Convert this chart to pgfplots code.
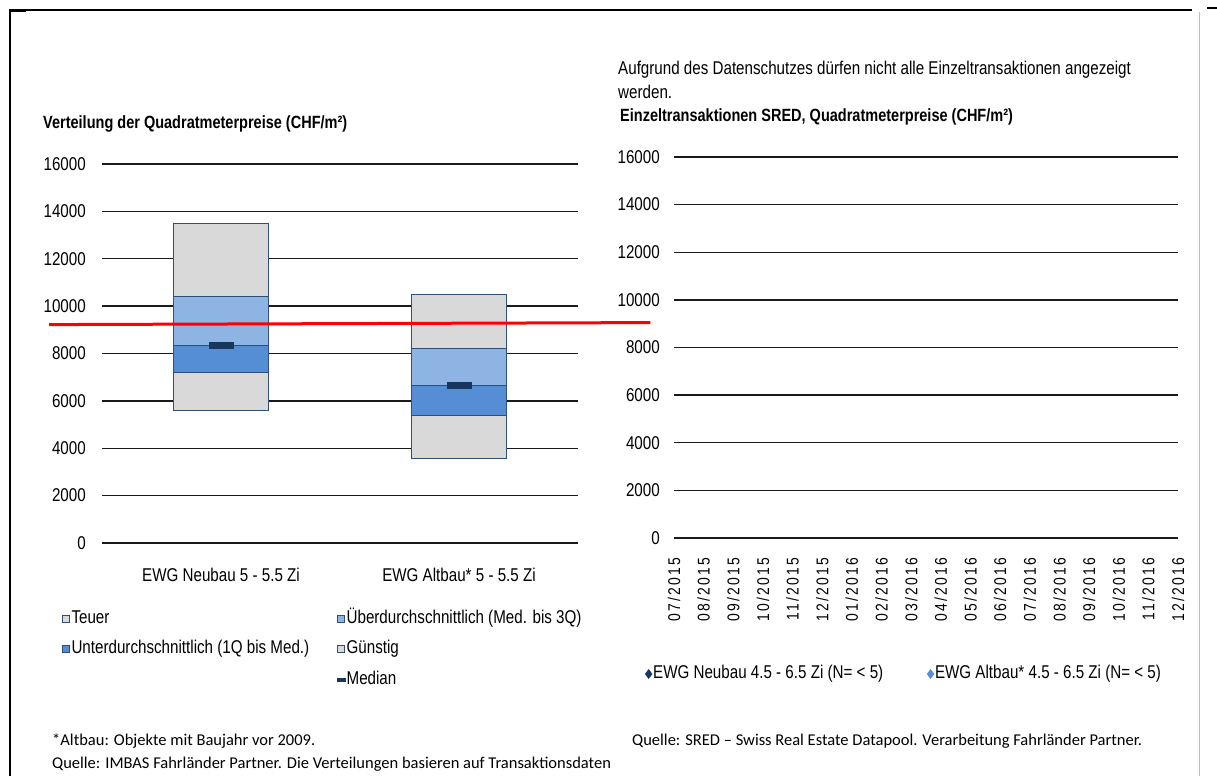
\documentclass[border=0pt]{standalone}
\usepackage{pgfplots}
\usepackage{pgfplotstable}
\pgfplotsset{compat=1.18}
\usepackage{fontspec}
\setmainfont{Liberation Sans}[FakeStretch=0.82]
\newfontfamily\wfont{Liberation Sans}[FakeStretch=0.82, LetterSpace=13]
\newfontfamily\cfont{Carlito}
\definecolor{lgray}{HTML}{D9D9D9}
\definecolor{lblue}{HTML}{8EB4E3}
\definecolor{mblue}{HTML}{558ED5}
\definecolor{navy}{HTML}{17375E}
\definecolor{bord}{HTML}{2F4F7A}
\definecolor{gridc}{HTML}{1A1A1A}
\pgfdeclareplotmark{medbar}{\pgfpathrectangle{\pgfpoint{-12.5pt}{-3.5pt}}{\pgfpoint{25pt}{7pt}}\pgfusepath{fill}}
\pgfplotstableread{
x base guenstig unter ueber teuer median
0 5600 1600 1150 2050 3100 8350
1 3550 1850 1250 1550 2300 6650
}\boxdata
\newcommand{\fs}{\fontsize{18.5}{21}\selectfont}
\newcommand{\fb}{\fontsize{17.7}{21}\selectfont\bfseries}
\newcommand{\fc}{\fontsize{16.5}{20}\selectfont\cfont}
\begin{document}
\begin{tikzpicture}
\path[use as bounding box] (0pt,0pt) rectangle (1217pt,776pt);
% frame
\draw[black, line width=1.5pt] (10pt,0pt) -- (10pt,766pt) -- (1192pt,766pt);
\draw[black, line width=2.5pt] (10pt,765.5pt) -- (26pt,765.5pt);
\draw[black, line width=1.5pt] (1207pt,768pt) -- (1217pt,768pt);
\draw[black!25, line width=1pt] (1199pt,0pt) -- (1199pt,764pt);
% left chart
\begin{axis}[
  at={(102pt,233pt)}, anchor=south west, scale only axis,
  width=476pt, height=379pt,
  xmin=-0.5, xmax=1.5, ymin=0, ymax=16000,
  ytick={0,2000,...,16000}, xtick={0,1},
  xticklabels={EWG Neubau 5 - 5.5 Zi, EWG Altbau* 5 - 5.5 Zi},
  axis line style={draw=none}, major tick length=0pt,
  ymajorgrids, grid style={gridc, line width=1.4pt},
  ybar stacked, bar width=95pt, clip=false,
  scaled y ticks=false,
  /pgf/number format/assume math mode=true,
  /pgf/number format/1000 sep={},
  ticklabel style={font=\fs, inner sep=0pt},
  yticklabel shift=16pt, xticklabel shift=25pt,
]
\addplot[draw=none, fill=none, forget plot] table[x=x,y=base]{\boxdata};
\addplot[fill=lgray, draw=bord, line width=1pt, forget plot] table[x=x,y=guenstig]{\boxdata};
\addplot[fill=mblue, draw=bord, line width=1pt, forget plot] table[x=x,y=unter]{\boxdata};
\addplot[fill=lblue, draw=bord, line width=1pt, forget plot] table[x=x,y=ueber]{\boxdata};
\addplot[fill=lgray, draw=bord, line width=1pt, forget plot] table[x=x,y=teuer]{\boxdata};
\end{axis}
\begin{axis}[
  at={(102pt,233pt)}, anchor=south west, scale only axis,
  width=476pt, height=379pt,
  xmin=-0.5, xmax=1.5, ymin=0, ymax=16000,
  hide axis, clip=false,
  legend columns=2,
  legend cell align=left,
  legend style={draw=none, fill=none, font=\fs,
    at={(axis description cs:-0.084,-0.2797)}, anchor=west,
    inner sep=0pt, row sep=13.5pt,
    nodes={inner sep=0pt, text height=13pt, text depth=4pt},
    /tikz/every odd column/.append style={column sep=1.5pt}},
]
\addplot[only marks, mark=medbar, color=navy, forget plot] table[x=x,y=median]{\boxdata};
\addplot[red, line width=3pt, forget plot] coordinates {(-0.722,9220) (1.804,9305)};
\addlegendimage{legend image code/.code={\draw[fill=lgray,draw=bord,line width=0.8pt] (0pt,-3.5pt) rectangle (7pt,3.5pt);}}
\addlegendentry{\makebox[265pt][l]{Teuer}}
\addlegendimage{legend image code/.code={\draw[fill=lblue,draw=bord,line width=0.8pt] (0pt,-3.5pt) rectangle (7pt,3.5pt);}}
\addlegendentry{Überdurchschnittlich (Med. bis 3Q)}
\addlegendimage{legend image code/.code={\draw[fill=mblue,draw=bord,line width=0.8pt] (0pt,-3.5pt) rectangle (7pt,3.5pt);}}
\addlegendentry{\makebox[265pt][l]{Unterdurchschnittlich (1Q bis Med.)}}
\addlegendimage{legend image code/.code={\draw[fill=lgray,draw=bord,line width=0.8pt] (0pt,-3.5pt) rectangle (7pt,3.5pt);}}
\addlegendentry{Günstig}
\addlegendimage{empty legend}
\addlegendentry{\makebox[265pt][l]{}}
\addlegendimage{legend image code/.code={\fill[navy] (0pt,-1.6pt) rectangle (8pt,1.6pt);}}
\addlegendentry{Median}
\end{axis}
% right chart
\begin{axis}[
  at={(674pt,238pt)}, anchor=south west, scale only axis,
  width=504pt, height=381pt,
  xmin=0, xmax=17, ymin=0, ymax=16000,
  ytick={0,2000,...,16000}, xtick={0,1,...,17},
  xticklabels={07/2015,08/2015,09/2015,10/2015,11/2015,12/2015,01/2016,02/2016,03/2016,04/2016,05/2016,06/2016,07/2016,08/2016,09/2016,10/2016,11/2016,12/2016},
  axis line style={draw=none}, major tick length=0pt,
  ymajorgrids, grid style={gridc, line width=1.4pt},
  clip=false, scaled y ticks=false,
  /pgf/number format/assume math mode=true,
  /pgf/number format/1000 sep={},
  ticklabel style={font=\fs, inner sep=0pt},
  xticklabel style={font=\wfont\fontsize{17}{20}\selectfont, rotate=90, anchor=east, xshift=2pt},
  yticklabel shift=14pt, xticklabel shift=22pt,
  legend columns=2,
  legend cell align=left,
  legend style={draw=none, fill=none, font=\fs,
    at={(axis description cs:-0.0575,-0.3570)}, anchor=west,
    inner sep=0pt,
    nodes={inner sep=0pt, text height=13pt, text depth=4pt},
    /tikz/every odd column/.append style={column sep=1pt}},
]
\addlegendimage{only marks, mark=diamond*, mark size=4.6pt, color=navy}
\addlegendentry{\makebox[274pt][l]{EWG Neubau 4.5 - 6.5 Zi (N= < 5)}}
\addlegendimage{only marks, mark=diamond*, mark size=4.6pt, color=mblue}
\addlegendentry{EWG Altbau* 4.5 - 6.5 Zi (N= < 5)}
\end{axis}
% titles and notes
\node[anchor=west, inner sep=0pt, font=\fb] at (43pt,652pt) {Verteilung der Quadratmeterpreise (CHF/m²)};
\node[anchor=west, inner sep=0pt, font=\fs] at (618pt,706pt) {Aufgrund des Datenschutzes dürfen nicht alle Einzeltransaktionen angezeigt};
\node[anchor=west, inner sep=0pt, font=\fs] at (618pt,684pt) {werden.};
\node[anchor=west, inner sep=0pt, font=\fb] at (620pt,659pt) {Einzeltransaktionen SRED, Quadratmeterpreise (CHF/m²)};
\node[anchor=west, inner sep=0pt, font=\fc] at (52pt,35pt) {*Altbau: Objekte mit Baujahr vor 2009.};
\node[anchor=west, inner sep=0pt, font=\fc] at (52pt,12pt) {Quelle: IMBAS Fahrländer Partner. Die Verteilungen basieren auf Transaktionsdaten};
\node[anchor=west, inner sep=0pt, font=\fc] at (632pt,35pt) {Quelle: SRED – Swiss Real Estate Datapool. Verarbeitung Fahrländer Partner.};
\end{tikzpicture}
\end{document}
